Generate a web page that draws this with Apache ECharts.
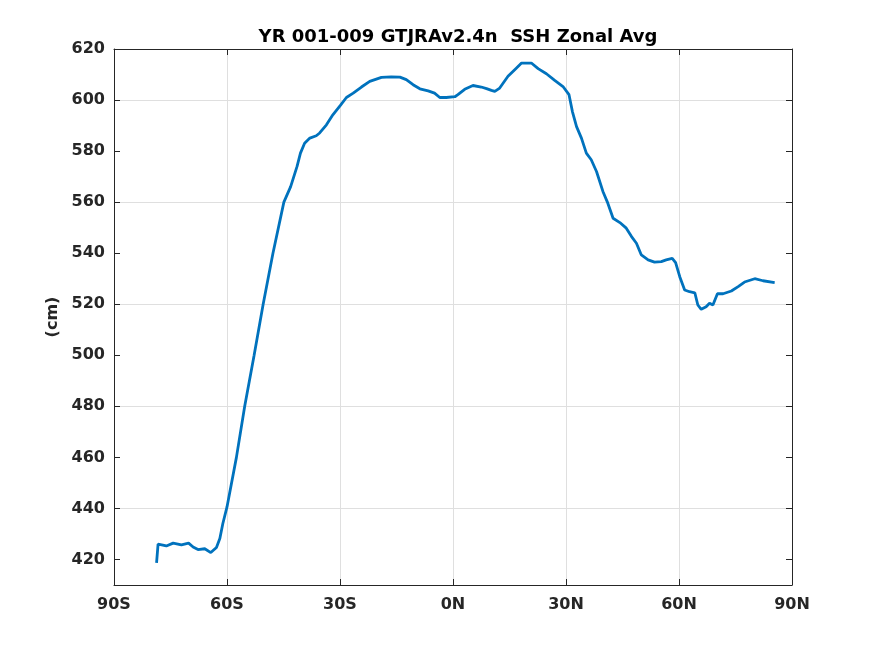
<!DOCTYPE html>
<html>
<head>
<meta charset="utf-8">
<title>SSH Zonal Avg</title>
<script src="https://cdn.jsdelivr.net/npm/echarts@6/dist/echarts.min.js"></script>
<style>
    html, body { margin: 0; padding: 0; background: #fff; }
    #chart { width: 875px; height: 656px; }
</style>
</head>
<body>
<div id="chart"></div>
<script>
// latitude (deg, negative = S) and zonal mean SSH (cm)
const lat = [
    -78.7, -78.3, -77.9, -76.1, -74.3, -72.1, -70.2, -69.0, -67.7, -65.9,
    -64.3, -62.8, -61.9, -61.1, -60.0, -57.5, -55.3, -52.8, -50.4, -47.8,
    -44.9, -43.1, -41.4, -40.5, -39.4, -38.0, -36.3, -35.4, -33.6, -31.9,
    -29.9, -28.3, -26.5, -24.3, -22.1, -19.0, -16.4, -14.1, -12.4, -10.6,
    -8.8, -6.6, -4.9, -3.5, -1.8, 0.5, 1.3, 3.1, 5.3, 7.5,
    8.9, 10.2, 11.1, 12.4, 14.6, 16.8, 18.2, 20.8, 22.6, 24.8,
    27.0, 29.2, 30.8, 31.7, 32.8, 34.1, 35.4, 36.7, 38.1, 39.8,
    41.1, 42.5, 44.3, 46.0, 47.4, 48.7, 50.0, 51.8, 53.5, 55.3,
    56.6, 58.2, 59.1, 60.2, 61.5, 62.8, 64.2, 65.0, 65.9, 67.2,
    68.1, 69.0, 70.2, 71.7, 73.9, 75.7, 77.4, 80.1, 82.3, 85.4
]
const ssh = [
    418.7, 426.0, 425.6, 425.3, 426.4, 425.7, 426.4, 424.9, 423.9, 424.2,
    422.7, 424.7, 428.2, 434.1, 440.6, 460.0, 480.0, 500.0, 520.0, 540.0,
    560.0, 566.1, 574.0, 579.2, 583.1, 585.1, 586.0, 587.1, 590.3, 594.2,
    597.9, 601.0, 602.7, 605.1, 607.3, 608.9, 609.1, 609.0, 608.0, 606.0,
    604.4, 603.6, 602.7, 601.0, 601.0, 601.3, 602.1, 604.2, 605.7, 605.1,
    604.5, 603.8, 603.4, 604.7, 609.3, 612.5, 614.5, 614.5, 612.3, 610.3,
    607.7, 605.3, 602.1, 595.5, 589.6, 585.1, 579.2, 576.6, 572.0, 564.2,
    559.6, 553.7, 552.0, 549.8, 546.5, 543.9, 539.3, 537.4, 536.5, 536.7,
    537.4, 538.0, 536.3, 530.8, 525.6, 524.9, 524.5, 519.7, 518.0, 519.0,
    520.4, 519.7, 524.1, 524.1, 525.2, 526.9, 528.7, 530.0, 529.2, 528.5
]

const xTicks = [-90, -60, -30, 0, 30, 60, 90]
const yTicks = [420, 440, 460, 480, 500, 520, 540, 560, 580, 600, 620]

const titleText = 'YR 001-009 GTJRAv2.4n  SSH Zonal Avg'
const yName = '(cm)'

const axisColor = '#262626'
const gridColor = '#dfdfdf'
const font = 'DejaVu Sans'

// 90S .. 0N .. 90N
function latLabel(v) {
    if (v < 0) return (-v) + 'S'
    return v + 'N'
}

const points = lat.map((x, i) => [x, ssh[i]])

const chart = echarts.init(document.getElementById('chart'))

chart.setOption({
    animation: false,
    backgroundColor: '#fff',
    title: {
        text: titleText,
        left: 453,
        top: 23,
        textAlign: 'center',
        textStyle: {
            fontFamily: font,
            fontWeight: 'bold',
            fontSize: 18,
            color: '#000'
        }
    },
    grid: {
        left: 114,
        right: 83,
        top: 49,
        bottom: 71,
        containLabel: false
    },
    xAxis: [
        {
            type: 'value',
            min: -90,
            max: 90,
            interval: 30,
            axisLine: { show: true, onZero: false, lineStyle: { color: axisColor, width: 1 } },
            axisTick: { show: true, inside: true, length: 6, customValues: xTicks, lineStyle: { color: axisColor } },
            axisLabel: {
                margin: 12,
                fontFamily: font,
                fontWeight: 'bold',
                fontSize: 16,
                color: axisColor,
                formatter: latLabel
            },
            splitLine: { show: true, lineStyle: { color: gridColor, width: 1 } }
        },
        {
            // mirrored top edge of the box
            type: 'value',
            position: 'top',
            min: -90,
            max: 90,
            interval: 30,
            axisLine: { show: true, onZero: false, lineStyle: { color: axisColor, width: 1 } },
            axisTick: { show: true, inside: true, length: 6, lineStyle: { color: axisColor } },
            axisLabel: { show: false },
            splitLine: { show: false }
        }
    ],
    yAxis: [
        {
            type: 'value',
            min: 410,
            max: 620,
            interval: 10,
            name: yName,
            nameLocation: 'middle',
            nameGap: 47,
            nameTextStyle: {
                fontFamily: font,
                fontWeight: 'bold',
                fontSize: 16,
                color: axisColor
            },
            axisLine: { show: true, onZero: false, lineStyle: { color: axisColor, width: 1 } },
            axisTick: { show: true, inside: true, length: 6, customValues: yTicks, lineStyle: { color: axisColor } },
            axisLabel: {
                margin: 9,
                fontFamily: font,
                fontWeight: 'bold',
                fontSize: 16,
                color: axisColor,
                customValues: yTicks
            },
            // every other line (410 hidden, 420 shown, ...)
            splitLine: { show: true, lineStyle: { color: ['rgba(0,0,0,0)', gridColor], width: 1 } }
        },
        {
            type: 'value',
            position: 'right',
            min: 410,
            max: 620,
            interval: 10,
            axisLine: { show: true, onZero: false, lineStyle: { color: axisColor, width: 1 } },
            axisTick: { show: true, inside: true, length: 6, customValues: yTicks, lineStyle: { color: axisColor } },
            axisLabel: { show: false },
            splitLine: { show: false }
        }
    ],
    series: [
        {
            type: 'line',
            data: points,
            xAxisIndex: 0,
            yAxisIndex: 0,
            showSymbol: false,
            smooth: false,
            lineStyle: { color: '#0072BD', width: 2.8 }
        }
    ]
})
</script>
</body>
</html>
